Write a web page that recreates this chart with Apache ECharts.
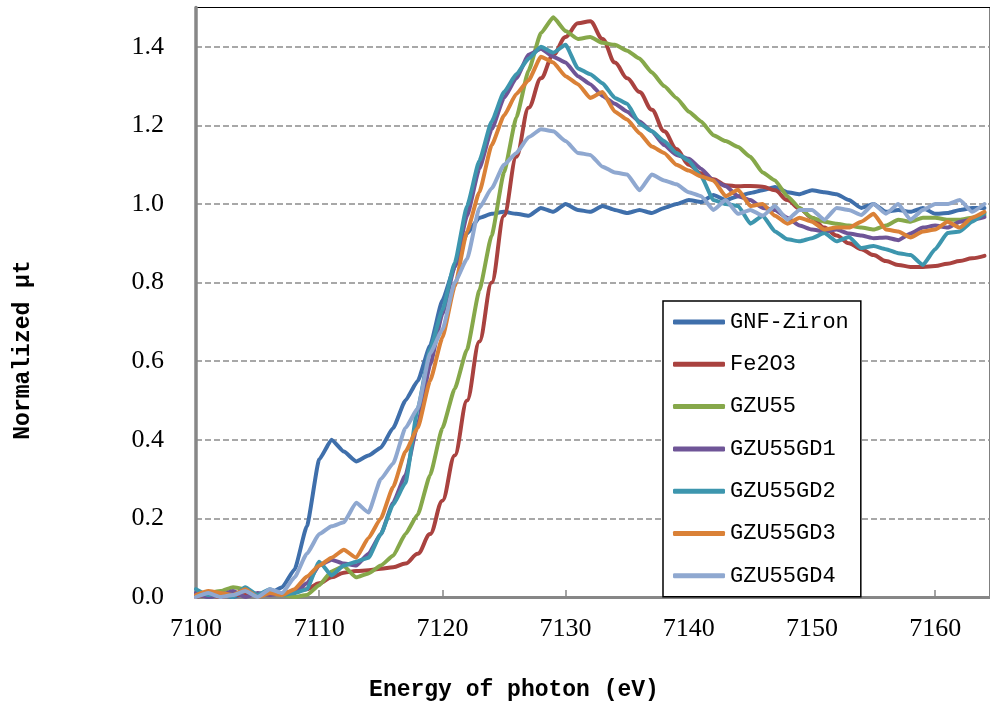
<!DOCTYPE html>
<html>
<head>
<meta charset="utf-8">
<script src="https://cdn.jsdelivr.net/npm/echarts@6/dist/echarts.min.js"></script>
<style>
html,body{margin:0;padding:0;background:#fff;}
#chart{width:990px;height:704px;}
</style>
</head>
<body>
<div id="chart"></div>
<script>
// Energy (eV), 1 eV steps
var energies = [];
for (var e = 7100; e <= 7164; e++) energies.push(e);

var seriesNames = ['GNF-Ziron','Fe2O3','GZU55','GZU55GD1','GZU55GD2','GZU55GD3','GZU55GD4'];
var seriesColors = ['#3f6fab','#a9423f','#86a84a','#6f5597','#3d96ae','#da8137','#8fa8d0'];
var seriesSmooth = [0.15, 0.35, 0.15, 0.15, 0.15, 0.15, 0.15];

var gnfZiron = [0.01,0.0,0.005,0.0,0.01,0.005,0.01,0.025,0.07,0.18,
  0.35,0.40,0.37,0.345,0.36,0.38,0.43,0.50,0.55,0.64,
  0.755,0.84,0.925,0.965,0.975,0.98,0.975,0.97,0.99,0.98,
  1.0,0.985,0.98,0.995,0.985,0.977,0.985,0.977,0.99,1.0,
  1.01,1.005,1.023,1.01,1.02,1.028,1.035,1.043,1.03,1.025,
  1.035,1.03,1.025,1.01,0.99,1.0,0.98,0.985,0.98,0.99,
  0.975,0.977,0.985,0.99,0.99];

var fe2o3 = [0.0,0.005,0.0,0.005,0.005,0.005,0.01,0.01,0.015,0.02,
  0.035,0.05,0.062,0.066,0.068,0.072,0.076,0.085,0.11,0.16,
  0.245,0.36,0.50,0.65,0.80,0.97,1.12,1.245,1.32,1.38,
  1.425,1.46,1.465,1.42,1.36,1.32,1.285,1.24,1.185,1.14,
  1.10,1.078,1.063,1.048,1.045,1.046,1.044,1.035,1.01,0.988,
  0.965,0.94,0.92,0.90,0.885,0.87,0.855,0.845,0.84,0.84,
  0.842,0.848,0.855,0.862,0.868];

var gzu55 = [0.005,0.01,0.015,0.025,0.02,0.005,0.01,0.005,0.0,0.005,
  0.03,0.065,0.078,0.05,0.06,0.08,0.105,0.16,0.21,0.31,
  0.43,0.53,0.63,0.78,0.92,1.08,1.22,1.34,1.435,1.475,
  1.44,1.42,1.425,1.41,1.405,1.39,1.37,1.335,1.30,1.27,
  1.235,1.21,1.175,1.16,1.145,1.12,1.08,1.06,1.02,0.99,
  0.965,0.955,0.95,0.945,0.94,0.935,0.945,0.96,0.955,0.965,
  0.965,0.96,0.96,0.965,0.972];

var gzu55gd1 = [0.01,0.0,0.005,0.015,0.0,0.01,0.005,0.01,0.01,0.035,
  0.08,0.095,0.085,0.08,0.11,0.16,0.24,0.31,0.44,0.59,
  0.72,0.84,0.97,1.09,1.19,1.27,1.32,1.38,1.395,1.375,
  1.36,1.325,1.305,1.275,1.255,1.235,1.21,1.185,1.15,1.125,
  1.115,1.09,1.06,1.045,1.02,1.01,0.99,0.985,0.965,0.945,
  0.935,0.93,0.935,0.925,0.92,0.913,0.915,0.908,0.925,0.94,
  0.945,0.94,0.955,0.96,0.967];

var gzu55gd2 = [0.02,0.005,0.01,0.0,0.025,0.005,0.02,0.005,0.01,0.02,
  0.09,0.055,0.08,0.09,0.10,0.16,0.235,0.29,0.48,0.63,
  0.73,0.85,0.995,1.11,1.21,1.285,1.33,1.37,1.40,1.385,
  1.405,1.345,1.33,1.307,1.27,1.255,1.205,1.185,1.16,1.13,
  1.11,1.07,1.01,1.0,0.995,0.95,0.97,0.93,0.91,0.905,
  0.913,0.926,0.905,0.916,0.888,0.893,0.885,0.875,0.87,0.845,
  0.885,0.926,0.93,0.955,0.977];

var gzu55gd3 = [0.005,0.015,0.01,0.005,0.02,0.0,0.01,0.005,0.02,0.052,
  0.08,0.10,0.12,0.10,0.15,0.20,0.28,0.37,0.43,0.55,
  0.66,0.79,0.93,1.03,1.15,1.225,1.28,1.315,1.375,1.36,
  1.325,1.305,1.27,1.285,1.235,1.215,1.18,1.146,1.13,1.10,
  1.085,1.07,1.06,1.02,1.036,0.995,1.0,0.97,0.95,0.965,
  0.955,0.935,0.94,0.94,0.955,0.975,0.935,0.93,0.915,0.93,
  0.935,0.955,0.94,0.965,0.98];

var gzu55gd4 = [0.0,0.01,0.0,0.005,0.015,0.0,0.02,0.01,0.05,0.11,
  0.16,0.18,0.19,0.24,0.215,0.30,0.34,0.43,0.48,0.62,
  0.68,0.80,0.86,0.99,1.04,1.10,1.13,1.17,1.19,1.185,
  1.16,1.13,1.125,1.095,1.08,1.075,1.035,1.075,1.06,1.05,
  1.03,1.02,0.985,1.01,0.975,0.985,0.97,0.995,0.96,0.985,
  0.985,0.96,0.99,0.985,0.972,1.0,0.975,1.0,0.96,0.985,
  1.0,1.0,1.01,0.98,1.0];

var yTicks = [0.0,0.2,0.4,0.6,0.8,1.0,1.2,1.4];
var xTicks = [7100,7110,7120,7130,7140,7150,7160];

var allValues = [gnfZiron, fe2o3, gzu55, gzu55gd1, gzu55gd2, gzu55gd3, gzu55gd4];

function pairs(vals){
  return vals.map(function(v,i){ return [energies[i], v]; });
}

var chart = echarts.init(document.getElementById('chart'), null, {renderer:'canvas'});

var series = seriesNames.map(function(name, i){
  return {
    name: name,
    type: 'line',
    data: pairs(allValues[i]),
    showSymbol: false,
    symbol: 'none',
    smooth: seriesSmooth[i],
    smoothMonotone: 'x',
    clip: true,
    lineStyle: {width: 4, color: seriesColors[i], cap: 'round', join: 'round'},
    itemStyle: {color: seriesColors[i]},
    emphasis: {disabled: true}
  };
});

var option = {
  animation: false,
  backgroundColor: '#ffffff',
  grid: {
    left: 196, top: 7.5, right: -2, bottom: 107,
    show: true, borderColor: '#000', borderWidth: 1, backgroundColor: 'transparent'
  },
  xAxis: {
    type: 'value',
    min: 7100, max: 7164.45, interval: 10,
    axisLine: {show: true, lineStyle: {color: '#878787', width: 3}},
    axisTick: {show: true, inside: true, length: 7, lineStyle: {color: '#878787', width: 1.5}},
    splitLine: {show: false},
    axisLabel: {
      show: true, margin: 19, color: '#000',
      fontFamily: 'Liberation Serif', fontSize: 26,
      showMaxLabel: false,
      formatter: function(v){ return xTicks.indexOf(v) >= 0 ? String(v) : ''; }
    }
  },
  yAxis: {
    type: 'value',
    min: 0, max: 1.5, interval: 0.2,
    axisLine: {show: true, lineStyle: {color: '#878787', width: 3.5}},
    axisTick: {show: false},
    splitLine: {show: true, showMinLine: false, showMaxLine: false,
      lineStyle: {color: '#8c8c8c', width: 1.5, type: [6, 3]}},
    axisLabel: {
      show: true, margin: 32, color: '#000',
      fontFamily: 'Liberation Serif', fontSize: 26,
      showMaxLabel: false,
      formatter: function(v){
        for (var k = 0; k < yTicks.length; k++) {
          if (Math.abs(yTicks[k] - v) < 1e-6) return yTicks[k].toFixed(1);
        }
        return '';
      }
    }
  },
  legend: {
    show: true,
    orient: 'vertical',
    left: 663, top: 301,
    data: seriesNames,
    icon: 'roundRect',
    itemWidth: 52, itemHeight: 5,
    itemGap: 20.3,
    padding: [10, 12, 10, 10],
    borderColor: '#000', borderWidth: 1.5,
    backgroundColor: '#fff',
    selectedMode: false,
    textStyle: {color: '#000', fontFamily: 'Liberation Mono', fontSize: 22, lineHeight: 22}
  },
  graphic: [
    {
      type: 'text',
      x: 514, y: 690,
      style: {text: 'Energy of photon (eV)', fill: '#000',
        font: 'bold 23px "Liberation Mono"', align: 'center', verticalAlign: 'middle'}
    },
    {
      type: 'text',
      x: 23, y: 350,
      rotation: Math.PI / 2,
      style: {text: 'Normalized μt', fill: '#000',
        font: 'bold 23px "Liberation Mono"', align: 'center', verticalAlign: 'middle'}
    }
  ],
  series: series
};

chart.setOption(option);
</script>
</body>
</html>
